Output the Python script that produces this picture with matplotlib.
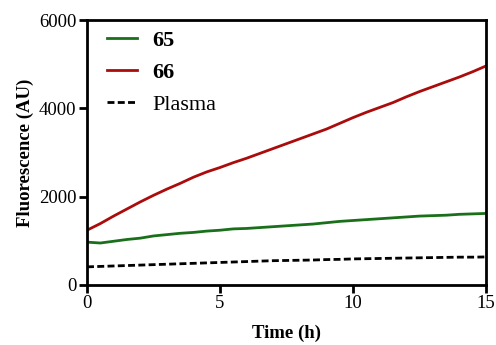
import numpy as np
import matplotlib
matplotlib.use("Agg")
import matplotlib.pyplot as plt

# values, every 0.5 h
time_h = [0.0, 0.5, 1.0, 1.5, 2.0, 2.5, 3.0, 3.5, 4.0, 4.5, 5.0, 5.5, 6.0, 6.5, 7.0, 7.5,
          8.0, 8.5, 9.0, 9.5, 10.0, 10.5, 11.0, 11.5, 12.0, 12.5, 13.0, 13.5, 14.0, 14.5, 15.0]
s65 = [970, 950, 990, 1030, 1060, 1110, 1140, 1170, 1190, 1220, 1240, 1270, 1280, 1300, 1320, 1340,
       1360, 1380, 1410, 1440, 1460, 1480, 1500, 1520, 1540, 1560, 1570, 1580, 1600, 1610, 1620]
s66 = [1240, 1390, 1560, 1720, 1880, 2030, 2170, 2300, 2440, 2560, 2660, 2770, 2870, 2980, 3090, 3200,
       3310, 3420, 3530, 3660, 3790, 3910, 4020, 4130, 4260, 4380, 4490, 4600, 4710, 4830, 4960]
plasma = [410, 420, 430, 440, 450, 460, 470, 480, 490, 500, 510, 520, 530, 540, 550, 555,
          560, 565, 575, 580, 590, 595, 600, 605, 610, 615, 620, 625, 630, 630, 635]

plt.rcParams['font.family'] = ['Liberation Serif', 'DejaVu Serif']

fig = plt.figure(figsize=(4.96, 3.45), dpi=100)
ax = fig.add_axes([0.1754, 0.174, 0.8046, 0.768])

ax.plot(time_h, s65, color='#1a701a', lw=2.0, label='65')
ax.plot(time_h, s66, color='#aa0c0c', lw=2.0, label='66')
ax.plot(time_h, plasma, color='black', lw=2.0, dashes=(2.5, 1.2), label='Plasma')

ax.set_xlim(0, 15)
ax.set_ylim(0, 6000)
ax.set_xticks([0, 5, 10, 15])
ax.set_yticks([0, 2000, 4000, 6000])
ax.tick_params(axis='both', direction='out', length=6, width=2, labelsize=13.5, pad=1.5)
for sp in ax.spines.values():
    sp.set_linewidth(2)

ax.set_xlabel('Time (h)', fontsize=13.5, fontweight='bold', labelpad=9)
ax.set_ylabel('Fluorescence (AU)', fontsize=13.5, fontweight='bold', labelpad=4)

leg = ax.legend(loc='upper left', frameon=False, fontsize=16, handlelength=1.35,
                handletextpad=0.7, labelspacing=0.52, borderpad=0, borderaxespad=0,
                bbox_to_anchor=(0.05, 0.962))
for t in leg.get_texts()[:2]:
    t.set_fontweight('bold')

fig.savefig('out.png', dpi=100)
